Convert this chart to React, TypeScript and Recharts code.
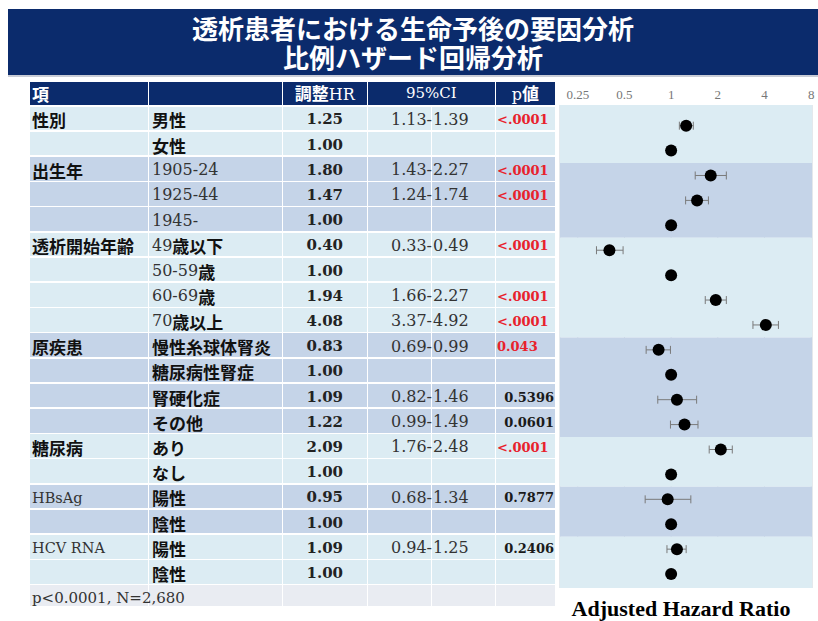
import React from "react";
import {
  CartesianGrid,
  ErrorBar,
  ReferenceArea,
  Scatter,
  ScatterChart,
  XAxis,
  YAxis,
} from "recharts";

const groupNames = ["性別", "", "出生年", "", "", "透析開始年齢", "", "", "", "原疾患", "", "", "", "糖尿病", "", "HBsAg", "", "HCV RNA", ""];
const levels = ["男性", "女性", "1905-24", "1925-44", "1945-", "49歳以下", "50-59歳", "60-69歳", "70歳以上", "慢性糸球体腎炎", "糖尿病性腎症", "腎硬化症", "その他", "あり", "なし", "陽性", "陰性", "陽性", "陰性"];
const hrValues = [1.25, 1.0, 1.8, 1.47, 1.0, 0.4, 1.0, 1.94, 4.08, 0.83, 1.0, 1.09, 1.22, 2.09, 1.0, 0.95, 1.0, 1.09, 1.0];
const ciLow = [1.13, null, 1.43, 1.24, null, 0.33, null, 1.66, 3.37, 0.69, null, 0.82, 0.99, 1.76, null, 0.68, null, 0.94, null];
const ciHigh = [1.39, null, 2.27, 1.74, null, 0.49, null, 2.27, 4.92, 0.99, null, 1.46, 1.49, 2.48, null, 1.34, null, 1.25, null];
const pValues = ["<.0001", "", "<.0001", "<.0001", "", "<.0001", "", "<.0001", "<.0001", "0.043", "", "0.5396", "0.0601", "<.0001", "", "0.7877", "", "0.2406", ""];
const xTicks = [0.25, 0.5, 1, 2, 4, 8];

const NAVY = "#0b2b6c";
const LIGHT = "#dcecf3";
const DARK = "#c5d4e8";
const RED = "#e8222c";
const SANS = '"Noto Sans CJK JP", "Noto Sans", sans-serif';
const SERIF = '"DejaVu Serif", serif';

// layout of the table
const colX = [30, 149, 283, 368, 432, 496, 556];
const HEADER_TOP = 82;
const ROW_TOP = 106.5;
const ROW_H = 25.2;
const GAP = 1.5;

const groupIndex: number[] = [];
groupNames.forEach((g, i) => {
  groupIndex.push(i === 0 ? 0 : groupIndex[i - 1] + (g ? 1 : 0));
});

const groupStarts = groupNames.map((g, i) => (g ? i : -1)).filter((i) => i >= 0);
const bands = groupStarts.map((start, k) => ({
  y1: k === 0 ? undefined : start - 0.5,
  y2: k === groupStarts.length - 1 ? undefined : groupStarts[k + 1] - 0.5,
  dark: k % 2 === 1,
}));

const plotData = hrValues.map((hr, i) => ({
  row: i,
  hr,
  err: [ciLow[i] == null ? 0 : hr - (ciLow[i] as number), ciHigh[i] == null ? 0 : (ciHigh[i] as number) - hr],
}));

const isSignificant = (p: string) => p.startsWith("<") || (p !== "" && parseFloat(p) < 0.05);

const Mixed = ({ text }: { text: string }) => (
  <>
    {text
      .split(/([\x00-\x7F]+)/)
      .filter(Boolean)
      .map((part, i) =>
        /^[\x00-\x7F]+$/.test(part) ? (
          <span key={i} style={{ fontFamily: SERIF, fontWeight: 400, fontSize: 16, color: "#333" }}>
            {part}
          </span>
        ) : (
          <span key={i} style={{ fontFamily: SANS, fontWeight: 700, fontSize: 17, color: "#111" }}>
            {part}
          </span>
        )
      )}
  </>
);

const cell = (left: number, right: number, top: number, height: number, bg: string, key: string) => (
  <div
    key={key}
    style={{
      position: "absolute",
      left,
      top,
      width: right - left - GAP,
      height: height - GAP,
      background: bg,
    }}
  />
);

const textBox = (
  left: number,
  width: number,
  top: number,
  height: number,
  align: "flex-start" | "center" | "flex-end",
  content: React.ReactNode,
  key: string
) => (
  <div
    key={key}
    style={{
      position: "absolute",
      left,
      top: top + 1.5,
      width,
      height: height - GAP,
      display: "flex",
      alignItems: "center",
      justifyContent: align,
      whiteSpace: "nowrap",
      lineHeight: 1,
    }}
  >
    {content}
  </div>
);

const Table = () => {
  const items: React.ReactNode[] = [];
  // header
  const hdrH = ROW_TOP - HEADER_TOP;
  [[0, 1], [1, 2], [2, 3], [3, 5], [5, 6]].forEach(([a, b], i) =>
    items.push(cell(colX[a], colX[b], HEADER_TOP, hdrH, NAVY, "h" + i))
  );
  const white = { color: "#fff" };
  items.push(
    textBox(colX[0] + 2, 100, HEADER_TOP - 1.5, hdrH, "flex-start",
      <span style={{ ...white, fontFamily: SANS, fontWeight: 700, fontSize: 17 }}>項</span>, "ht0")
  );
  items.push(
    textBox(colX[2], colX[3] - colX[2] - GAP, HEADER_TOP - 1.5, hdrH, "center",
      <span style={white}>
        <span style={{ fontFamily: SANS, fontWeight: 700, fontSize: 17 }}>調整</span>
        <span style={{ fontFamily: SERIF, fontSize: 16 }}>HR</span>
      </span>, "ht1")
  );
  items.push(
    textBox(colX[3], colX[5] - colX[3] - GAP, HEADER_TOP - 1.5, hdrH, "center",
      <span style={{ ...white, fontFamily: SERIF, fontSize: 15 }}>95%CI</span>, "ht2")
  );
  items.push(
    textBox(colX[5], colX[6] - colX[5] - GAP, HEADER_TOP - 1.5, hdrH, "center",
      <span style={white}>
        <span style={{ fontFamily: SERIF, fontSize: 16 }}>p</span>
        <span style={{ fontFamily: SANS, fontWeight: 700, fontSize: 17 }}>値</span>
      </span>, "ht3")
  );

  levels.forEach((lvl, i) => {
    const top = ROW_TOP + i * ROW_H;
    const bg = groupIndex[i] % 2 === 1 ? DARK : LIGHT;
    for (let c = 0; c < colX.length - 1; c++) items.push(cell(colX[c], colX[c + 1], top, ROW_H, bg, `c${i}-${c}`));
    const g = groupNames[i];
    if (g) {
      const ascii = /^[\x00-\x7F]+$/.test(g);
      items.push(
        textBox(colX[0] + 2, 116, top, ROW_H, "flex-start",
          ascii ? (
            <span style={{ fontFamily: SERIF, fontSize: 14.5, color: "#333" }}>{g}</span>
          ) : (
            <span style={{ fontFamily: SANS, fontWeight: 700, fontSize: 17, color: "#111" }}>{g}</span>
          ), `g${i}`)
      );
    }
    items.push(textBox(colX[1] + 3, 130, top, ROW_H, "flex-start", <Mixed text={lvl} />, `l${i}`));
    items.push(
      textBox(colX[2], colX[3] - colX[2] - GAP, top, ROW_H, "center",
        <span style={{ fontFamily: SERIF, fontWeight: 700, fontSize: 15, color: "#222" }}>{hrValues[i].toFixed(2)}</span>, `hr${i}`)
    );
    if (ciLow[i] != null) {
      items.push(
        textBox(colX[3], colX[4] - colX[3], top, ROW_H, "flex-end",
          <span style={{ fontFamily: SERIF, fontSize: 16, color: "#333" }}>{(ciLow[i] as number).toFixed(2)}-</span>, `lo${i}`)
      );
      items.push(
        textBox(colX[4] + 1, 60, top, ROW_H, "flex-start",
          <span style={{ fontFamily: SERIF, fontSize: 16, color: "#333" }}>{(ciHigh[i] as number).toFixed(2)}</span>, `hi${i}`)
      );
    }
    const p = pValues[i];
    if (p) {
      const sig = isSignificant(p);
      items.push(
        textBox(colX[5] + 1, colX[6] - colX[5] - 3, top, ROW_H, sig ? "flex-start" : "flex-end",
          <span style={{ fontFamily: SERIF, fontWeight: 700, fontSize: 13, color: sig ? RED : "#1a1a1a" }}>{p}</span>, `p${i}`)
      );
    }
  });

  // footer
  const fTop = ROW_TOP + levels.length * ROW_H;
  const fH = 608 - fTop;
  for (let c = 0; c < colX.length - 1; c++) items.push(cell(colX[c], colX[c + 1], fTop, fH, "#e9ecf2", `f${c}`));
  items.push(
    textBox(colX[0] + 2, 250, fTop + 1, fH, "flex-start",
      <span style={{ fontFamily: SERIF, fontSize: 15, color: "#333" }}>p&lt;0.0001, N=2,680</span>, "ft")
  );
  return <>{items}</>;
};

const Dot = (props: any) => <circle cx={props.cx} cy={props.cy} r={6} fill="#000" />;

const Forest = () => (
  <div style={{ position: "absolute", left: 540, top: 80 }}>
    <ScatterChart width={278} height={508} margin={{ top: 0, right: 6, bottom: 0, left: 20 }}>
      {bands.map((b, i) => (
        <ReferenceArea
          key={i}
          y1={b.y1}
          y2={b.y2}
          fill={b.dark ? DARK : LIGHT}
          fillOpacity={1}
          stroke="none"
          ifOverflow="hidden"
        />
      ))}
      <CartesianGrid horizontal={false} stroke="#c9d2da" />
      <XAxis
        type="number"
        dataKey="hr"
        scale="log"
        domain={[0.192, 8.1]}
        allowDataOverflow
        ticks={xTicks}
        interval={0}
        orientation="top"
        height={25}
        axisLine={false}
        tickLine={false}
        tickSize={0}
        tickMargin={6}
        tick={{ fill: "#777", fontSize: 13, fontFamily: "Liberation Serif" }}
      />
      <YAxis type="number" dataKey="row" domain={[-0.83, 18.56]} reversed hide allowDataOverflow />
      <Scatter data={plotData} shape={Dot} isAnimationActive={false}>
        <ErrorBar dataKey="err" direction="x" width={4} stroke="#7a7a7a" strokeWidth={1} />
      </Scatter>
    </ScatterChart>
  </div>
);

export default function App() {
  return (
    <div style={{ position: "absolute", left: 0, top: 0, width: 818, height: 621, background: "#fff", overflow: "hidden" }}>
      <div
        style={{
          position: "absolute",
          left: 8,
          top: 9,
          width: 810,
          height: 66,
          background: NAVY,
          color: "#fff",
          textAlign: "center",
          fontFamily: SANS,
          fontWeight: 700,
          fontSize: 26,
          lineHeight: "29px",
          paddingTop: 4,
          boxSizing: "border-box",
        }}
      >
        <div>透析患者における生命予後の要因分析</div>
        <div>比例ハザード回帰分析</div>
      </div>
      <div style={{ position: "absolute", left: 8, top: 75, width: 810, height: 2, background: "#c9ccd6" }} />
      <Table />
      <Forest />
      <div
        style={{
          position: "absolute",
          left: 556,
          width: 250,
          top: 598,
          textAlign: "center",
          fontFamily: '"Liberation Serif", serif',
          fontWeight: 700,
          fontSize: 22,
          lineHeight: "22px",
          color: "#000",
          whiteSpace: "nowrap",
        }}
      >
        Adjusted Hazard Ratio
      </div>
    </div>
  );
}
